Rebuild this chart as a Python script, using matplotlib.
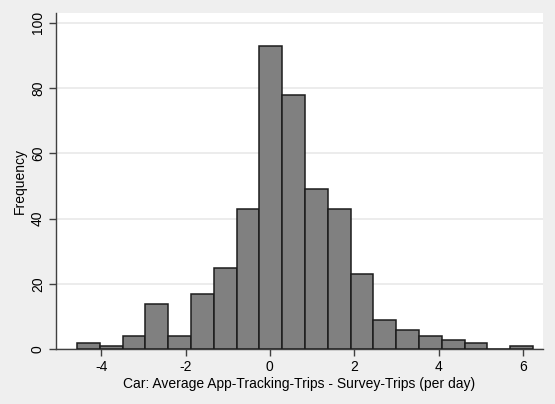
import numpy as np
import matplotlib.pyplot as plt

# Histogram of car trip differences (app tracking minus survey, per day)
bin_start = -4.573
bin_width = 0.5406
counts = [2, 1, 4, 14, 4, 17, 25, 43, 93, 78, 49, 43, 23, 9, 6, 4, 3, 2, 0, 1]
x_ticks = [-4, -2, 0, 2, 4, 6]
y_ticks = [0, 20, 40, 60, 80, 100]

plt.rcParams['font.family'] = ['Liberation Sans', 'DejaVu Sans']
plt.rcParams['axes.unicode_minus'] = False

edges = bin_start + bin_width * np.arange(len(counts))

fig = plt.figure(figsize=(5.55, 4.04), dpi=100, facecolor='#efefef')
ax = fig.add_axes([0.1009, 0.1354, 0.8771, 0.8324])
ax.set_facecolor('white')

ax.bar(edges, counts, width=bin_width, align='edge',
       color='#808080', edgecolor='#1c1c1c', linewidth=1.1, zorder=3)

ax.set_xlim(-5.07, 6.47)
ax.set_ylim(0, 103)
ax.set_xticks(x_ticks)
ax.set_xticklabels([str(v) for v in x_ticks])
ax.set_yticks(y_ticks)
ax.set_yticklabels([str(v) for v in y_ticks], rotation=90, va='center')
ax.tick_params(axis='both', labelsize=10, length=5, width=1, color='#404040', pad=3)
ax.grid(axis='y', color='#eaeaea', linewidth=1.3, zorder=0)

for side in ['top', 'right']:
    ax.spines[side].set_visible(False)
for side in ['left', 'bottom']:
    ax.spines[side].set_color('#404040')
    ax.spines[side].set_linewidth(1)

ax.set_xlabel('Car: Average App-Tracking-Trips - Survey-Trips (per day)', fontsize=10, labelpad=2)
ax.set_ylabel('Frequency', fontsize=10, labelpad=3)

fig.savefig('out.png', dpi=100, facecolor=fig.get_facecolor())
